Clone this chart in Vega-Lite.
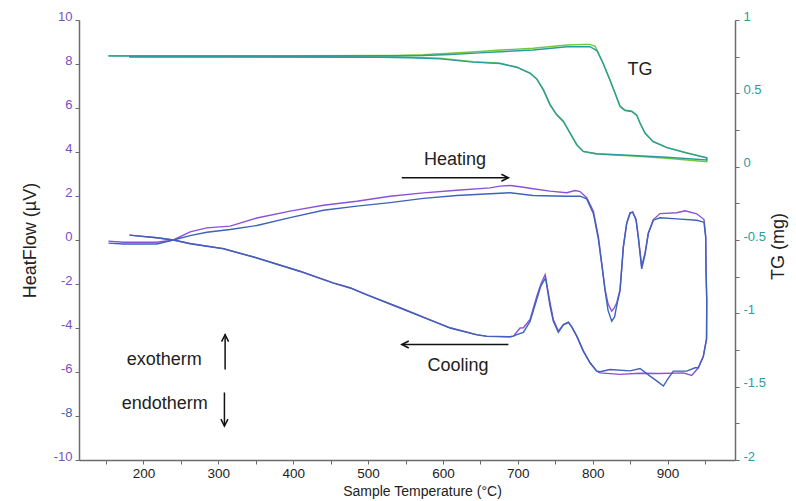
{
  "$schema": "https://vega.github.io/schema/vega-lite/v6.json",
  "width": 656,
  "height": 440,
  "autosize": {"type": "none"},
  "padding": {"left": 79, "top": 20, "right": 61, "bottom": 41},
  "background": "white",
  "config": {
    "view": {"stroke": null},
    "font": "Liberation Sans",
    "axis": {
      "grid": false,
      "domainColor": "#6b6b6b",
      "domainWidth": 1.5,
      "tickColor": "#6b6b6b",
      "tickWidth": 1,
      "tickSize": 4,
      "labelFont": "Liberation Sans",
      "titleFont": "Liberation Sans",
      "titleFontWeight": "normal",
      "titleColor": "#222222",
      "labelOverlap": false,
      "labelFlush": false
    }
  },
  "datasets": {
    "hf": [
      {"series": "HF run 1", "i": 1, "T": 153.3, "HF": -0.05},
      {"series": "HF run 1", "i": 2, "T": 173.3, "HF": -0.1},
      {"series": "HF run 1", "i": 3, "T": 217.9, "HF": -0.1},
      {"series": "HF run 1", "i": 4, "T": 240.1, "HF": 0.0},
      {"series": "HF run 1", "i": 5, "T": 262.4, "HF": 0.37},
      {"series": "HF run 1", "i": 6, "T": 284.7, "HF": 0.55},
      {"series": "HF run 1", "i": 7, "T": 315.8, "HF": 0.63},
      {"series": "HF run 1", "i": 8, "T": 351.5, "HF": 1.0},
      {"series": "HF run 1", "i": 9, "T": 395.9, "HF": 1.31},
      {"series": "HF run 1", "i": 10, "T": 440.4, "HF": 1.58},
      {"series": "HF run 1", "i": 11, "T": 484.9, "HF": 1.76},
      {"series": "HF run 1", "i": 12, "T": 529.4, "HF": 1.99},
      {"series": "HF run 1", "i": 13, "T": 573.9, "HF": 2.14},
      {"series": "HF run 1", "i": 14, "T": 618.5, "HF": 2.26},
      {"series": "HF run 1", "i": 15, "T": 663.0, "HF": 2.37},
      {"series": "HF run 1", "i": 16, "T": 676.3, "HF": 2.45},
      {"series": "HF run 1", "i": 17, "T": 689.7, "HF": 2.48},
      {"series": "HF run 1", "i": 18, "T": 703.0, "HF": 2.42},
      {"series": "HF run 1", "i": 19, "T": 720.3, "HF": 2.33},
      {"series": "HF run 1", "i": 20, "T": 743.0, "HF": 2.22},
      {"series": "HF run 1", "i": 21, "T": 765.3, "HF": 2.15},
      {"series": "HF run 1", "i": 22, "T": 776.4, "HF": 2.25},
      {"series": "HF run 1", "i": 23, "T": 783.1, "HF": 2.2},
      {"series": "HF run 1", "i": 24, "T": 792.0, "HF": 1.92},
      {"series": "HF run 1", "i": 25, "T": 800.9, "HF": 1.31},
      {"series": "HF run 1", "i": 26, "T": 807.5, "HF": 0.17},
      {"series": "HF run 1", "i": 27, "T": 812.0, "HF": -1.04},
      {"series": "HF run 1", "i": 28, "T": 816.5, "HF": -2.25},
      {"series": "HF run 1", "i": 29, "T": 820.5, "HF": -2.9},
      {"series": "HF run 1", "i": 30, "T": 825.4, "HF": -3.24},
      {"series": "HF run 1", "i": 31, "T": 828.5, "HF": -3.1},
      {"series": "HF run 1", "i": 32, "T": 832.1, "HF": -2.85},
      {"series": "HF run 1", "i": 33, "T": 836.5, "HF": -2.25},
      {"series": "HF run 1", "i": 34, "T": 840.9, "HF": -0.28},
      {"series": "HF run 1", "i": 35, "T": 845.4, "HF": 0.78},
      {"series": "HF run 1", "i": 36, "T": 849.9, "HF": 1.24},
      {"series": "HF run 1", "i": 37, "T": 853.4, "HF": 1.28},
      {"series": "HF run 1", "i": 38, "T": 857.9, "HF": 0.93},
      {"series": "HF run 1", "i": 39, "T": 860.9, "HF": 0.17},
      {"series": "HF run 1", "i": 40, "T": 865.4, "HF": -1.19},
      {"series": "HF run 1", "i": 41, "T": 869.9, "HF": -0.58},
      {"series": "HF run 1", "i": 42, "T": 874.3, "HF": 0.33},
      {"series": "HF run 1", "i": 43, "T": 881.0, "HF": 0.93},
      {"series": "HF run 1", "i": 44, "T": 889.9, "HF": 1.2},
      {"series": "HF run 1", "i": 45, "T": 912.2, "HF": 1.24},
      {"series": "HF run 1", "i": 46, "T": 923.3, "HF": 1.33},
      {"series": "HF run 1", "i": 47, "T": 938.9, "HF": 1.19},
      {"series": "HF run 1", "i": 48, "T": 948.6, "HF": 0.93},
      {"series": "HF run 1", "i": 49, "T": 950.9, "HF": 0.17},
      {"series": "HF run 1", "i": 50, "T": 951.3, "HF": -1.34},
      {"series": "HF run 1", "i": 51, "T": 952.3, "HF": -2.7},
      {"series": "HF run 1", "i": 52, "T": 952.0, "HF": -4.5},
      {"series": "HF run 1", "i": 53, "T": 947.7, "HF": -5.28},
      {"series": "HF run 1", "i": 54, "T": 941.0, "HF": -5.81},
      {"series": "HF run 1", "i": 55, "T": 932.2, "HF": -6.16},
      {"series": "HF run 1", "i": 56, "T": 921.0, "HF": -6.04},
      {"series": "HF run 1", "i": 57, "T": 889.9, "HF": -6.07},
      {"series": "HF run 1", "i": 58, "T": 863.2, "HF": -6.06},
      {"series": "HF run 1", "i": 59, "T": 836.5, "HF": -6.11},
      {"series": "HF run 1", "i": 60, "T": 809.8, "HF": -6.04},
      {"series": "HF run 1", "i": 61, "T": 805.4, "HF": -5.96},
      {"series": "HF run 1", "i": 62, "T": 796.4, "HF": -5.58},
      {"series": "HF run 1", "i": 63, "T": 787.5, "HF": -5.05},
      {"series": "HF run 1", "i": 64, "T": 778.7, "HF": -4.37},
      {"series": "HF run 1", "i": 65, "T": 772.0, "HF": -3.95},
      {"series": "HF run 1", "i": 66, "T": 767.5, "HF": -3.73},
      {"series": "HF run 1", "i": 67, "T": 760.8, "HF": -3.84},
      {"series": "HF run 1", "i": 68, "T": 754.1, "HF": -4.14},
      {"series": "HF run 1", "i": 69, "T": 747.4, "HF": -3.61},
      {"series": "HF run 1", "i": 70, "T": 743.0, "HF": -2.85},
      {"series": "HF run 1", "i": 71, "T": 736.4, "HF": -1.57},
      {"series": "HF run 1", "i": 72, "T": 730.6, "HF": -2.02},
      {"series": "HF run 1", "i": 73, "T": 725.3, "HF": -2.55},
      {"series": "HF run 1", "i": 74, "T": 716.3, "HF": -3.61},
      {"series": "HF run 1", "i": 75, "T": 707.4, "HF": -3.99},
      {"series": "HF run 1", "i": 76, "T": 703.0, "HF": -4.0},
      {"series": "HF run 1", "i": 77, "T": 694.1, "HF": -4.37},
      {"series": "HF run 1", "i": 78, "T": 689.7, "HF": -4.4},
      {"series": "HF run 1", "i": 79, "T": 658.5, "HF": -4.37},
      {"series": "HF run 1", "i": 80, "T": 645.2, "HF": -4.3},
      {"series": "HF run 1", "i": 81, "T": 609.5, "HF": -3.99},
      {"series": "HF run 1", "i": 82, "T": 587.2, "HF": -3.69},
      {"series": "HF run 1", "i": 83, "T": 542.8, "HF": -3.08},
      {"series": "HF run 1", "i": 84, "T": 498.3, "HF": -2.48},
      {"series": "HF run 1", "i": 85, "T": 476.0, "HF": -2.17},
      {"series": "HF run 1", "i": 86, "T": 453.7, "HF": -1.95},
      {"series": "HF run 1", "i": 87, "T": 409.3, "HF": -1.42},
      {"series": "HF run 1", "i": 88, "T": 351.5, "HF": -0.81},
      {"series": "HF run 1", "i": 89, "T": 306.9, "HF": -0.39},
      {"series": "HF run 1", "i": 90, "T": 262.4, "HF": -0.16},
      {"series": "HF run 1", "i": 91, "T": 240.1, "HF": 0.0},
      {"series": "HF run 1", "i": 92, "T": 217.9, "HF": 0.1},
      {"series": "HF run 1", "i": 93, "T": 181.4, "HF": 0.22},

      {"series": "HF run 2", "i": 1, "T": 153.3, "HF": -0.14},
      {"series": "HF run 2", "i": 2, "T": 173.3, "HF": -0.18},
      {"series": "HF run 2", "i": 3, "T": 217.9, "HF": -0.18},
      {"series": "HF run 2", "i": 4, "T": 240.1, "HF": 0.0},
      {"series": "HF run 2", "i": 5, "T": 262.4, "HF": 0.2},
      {"series": "HF run 2", "i": 6, "T": 284.7, "HF": 0.35},
      {"series": "HF run 2", "i": 7, "T": 315.8, "HF": 0.48},
      {"series": "HF run 2", "i": 8, "T": 351.5, "HF": 0.66},
      {"series": "HF run 2", "i": 9, "T": 395.9, "HF": 1.02},
      {"series": "HF run 2", "i": 10, "T": 440.4, "HF": 1.35},
      {"series": "HF run 2", "i": 11, "T": 484.9, "HF": 1.54},
      {"series": "HF run 2", "i": 12, "T": 529.4, "HF": 1.7},
      {"series": "HF run 2", "i": 13, "T": 573.9, "HF": 1.89},
      {"series": "HF run 2", "i": 14, "T": 618.5, "HF": 2.02},
      {"series": "HF run 2", "i": 15, "T": 663.0, "HF": 2.1},
      {"series": "HF run 2", "i": 16, "T": 689.7, "HF": 2.15},
      {"series": "HF run 2", "i": 17, "T": 720.3, "HF": 2.02},
      {"series": "HF run 2", "i": 18, "T": 765.3, "HF": 1.99},
      {"series": "HF run 2", "i": 19, "T": 783.1, "HF": 1.99},
      {"series": "HF run 2", "i": 20, "T": 792.0, "HF": 1.87},
      {"series": "HF run 2", "i": 21, "T": 800.9, "HF": 1.2},
      {"series": "HF run 2", "i": 22, "T": 807.5, "HF": 0.05},
      {"series": "HF run 2", "i": 23, "T": 812.0, "HF": -1.1},
      {"series": "HF run 2", "i": 24, "T": 816.5, "HF": -2.3},
      {"series": "HF run 2", "i": 25, "T": 820.5, "HF": -3.2},
      {"series": "HF run 2", "i": 26, "T": 825.4, "HF": -3.69},
      {"series": "HF run 2", "i": 27, "T": 829.2, "HF": -3.5},
      {"series": "HF run 2", "i": 28, "T": 832.5, "HF": -2.9},
      {"series": "HF run 2", "i": 29, "T": 836.5, "HF": -2.3},
      {"series": "HF run 2", "i": 30, "T": 840.9, "HF": -0.35},
      {"series": "HF run 2", "i": 31, "T": 845.4, "HF": 0.75},
      {"series": "HF run 2", "i": 32, "T": 849.9, "HF": 1.22},
      {"series": "HF run 2", "i": 33, "T": 853.4, "HF": 1.26},
      {"series": "HF run 2", "i": 34, "T": 857.9, "HF": 0.9},
      {"series": "HF run 2", "i": 35, "T": 860.9, "HF": 0.1},
      {"series": "HF run 2", "i": 36, "T": 865.4, "HF": -1.31},
      {"series": "HF run 2", "i": 37, "T": 869.9, "HF": -0.65},
      {"series": "HF run 2", "i": 38, "T": 874.3, "HF": 0.3},
      {"series": "HF run 2", "i": 39, "T": 881.0, "HF": 0.9},
      {"series": "HF run 2", "i": 40, "T": 889.9, "HF": 1.01},
      {"series": "HF run 2", "i": 41, "T": 912.2, "HF": 0.96},
      {"series": "HF run 2", "i": 42, "T": 938.9, "HF": 0.9},
      {"series": "HF run 2", "i": 43, "T": 948.6, "HF": 0.81},
      {"series": "HF run 2", "i": 44, "T": 950.9, "HF": 0.1},
      {"series": "HF run 2", "i": 45, "T": 951.3, "HF": -1.4},
      {"series": "HF run 2", "i": 46, "T": 952.3, "HF": -2.8},
      {"series": "HF run 2", "i": 47, "T": 952.0, "HF": -4.5},
      {"series": "HF run 2", "i": 48, "T": 947.7, "HF": -5.3},
      {"series": "HF run 2", "i": 49, "T": 941.0, "HF": -5.81},
      {"series": "HF run 2", "i": 50, "T": 936.6, "HF": -5.81},
      {"series": "HF run 2", "i": 51, "T": 925.5, "HF": -5.96},
      {"series": "HF run 2", "i": 52, "T": 907.7, "HF": -5.96},
      {"series": "HF run 2", "i": 53, "T": 900.6, "HF": -6.3},
      {"series": "HF run 2", "i": 54, "T": 894.3, "HF": -6.64},
      {"series": "HF run 2", "i": 55, "T": 887.3, "HF": -6.45},
      {"series": "HF run 2", "i": 56, "T": 876.6, "HF": -6.19},
      {"series": "HF run 2", "i": 57, "T": 863.2, "HF": -5.84},
      {"series": "HF run 2", "i": 58, "T": 849.9, "HF": -5.95},
      {"series": "HF run 2", "i": 59, "T": 823.1, "HF": -5.89},
      {"series": "HF run 2", "i": 60, "T": 809.8, "HF": -5.99},
      {"series": "HF run 2", "i": 61, "T": 805.4, "HF": -5.96},
      {"series": "HF run 2", "i": 62, "T": 796.4, "HF": -5.58},
      {"series": "HF run 2", "i": 63, "T": 787.5, "HF": -5.05},
      {"series": "HF run 2", "i": 64, "T": 778.7, "HF": -4.37},
      {"series": "HF run 2", "i": 65, "T": 772.0, "HF": -3.95},
      {"series": "HF run 2", "i": 66, "T": 767.5, "HF": -3.75},
      {"series": "HF run 2", "i": 67, "T": 760.8, "HF": -3.86},
      {"series": "HF run 2", "i": 68, "T": 754.1, "HF": -4.2},
      {"series": "HF run 2", "i": 69, "T": 747.4, "HF": -3.7},
      {"series": "HF run 2", "i": 70, "T": 743.0, "HF": -3.0},
      {"series": "HF run 2", "i": 71, "T": 737.0, "HF": -1.72},
      {"series": "HF run 2", "i": 72, "T": 730.6, "HF": -2.1},
      {"series": "HF run 2", "i": 73, "T": 725.3, "HF": -2.7},
      {"series": "HF run 2", "i": 74, "T": 716.3, "HF": -3.7},
      {"series": "HF run 2", "i": 75, "T": 707.4, "HF": -4.2},
      {"series": "HF run 2", "i": 76, "T": 698.6, "HF": -4.3},
      {"series": "HF run 2", "i": 77, "T": 694.1, "HF": -4.37},
      {"series": "HF run 2", "i": 78, "T": 689.7, "HF": -4.4},
      {"series": "HF run 2", "i": 79, "T": 658.5, "HF": -4.38},
      {"series": "HF run 2", "i": 80, "T": 645.2, "HF": -4.31},
      {"series": "HF run 2", "i": 81, "T": 609.5, "HF": -4.0},
      {"series": "HF run 2", "i": 82, "T": 587.2, "HF": -3.7},
      {"series": "HF run 2", "i": 83, "T": 542.8, "HF": -3.09},
      {"series": "HF run 2", "i": 84, "T": 498.3, "HF": -2.49},
      {"series": "HF run 2", "i": 85, "T": 476.0, "HF": -2.18},
      {"series": "HF run 2", "i": 86, "T": 453.7, "HF": -1.96},
      {"series": "HF run 2", "i": 87, "T": 409.3, "HF": -1.43},
      {"series": "HF run 2", "i": 88, "T": 351.5, "HF": -0.82},
      {"series": "HF run 2", "i": 89, "T": 306.9, "HF": -0.4},
      {"series": "HF run 2", "i": 90, "T": 262.4, "HF": -0.17},
      {"series": "HF run 2", "i": 91, "T": 240.1, "HF": 0.0},
      {"series": "HF run 2", "i": 92, "T": 217.9, "HF": 0.1},
      {"series": "HF run 2", "i": 93, "T": 181.4, "HF": 0.22}
    ],
    "tg": [
      {"series": "TG run 1", "i": 1, "T": 153.3, "TG": 0.757},
      {"series": "TG run 1", "i": 2, "T": 409.0, "TG": 0.757},
      {"series": "TG run 1", "i": 3, "T": 536.0, "TG": 0.759},
      {"series": "TG run 1", "i": 4, "T": 573.5, "TG": 0.763},
      {"series": "TG run 1", "i": 5, "T": 609.5, "TG": 0.773},
      {"series": "TG run 1", "i": 6, "T": 649.6, "TG": 0.785},
      {"series": "TG run 1", "i": 7, "T": 676.3, "TG": 0.795},
      {"series": "TG run 1", "i": 8, "T": 720.3, "TG": 0.807},
      {"series": "TG run 1", "i": 9, "T": 765.7, "TG": 0.83},
      {"series": "TG run 1", "i": 10, "T": 789.8, "TG": 0.834},
      {"series": "TG run 1", "i": 11, "T": 796.5, "TG": 0.834},
      {"series": "TG run 1", "i": 12, "T": 803.2, "TG": 0.82},
      {"series": "TG run 1", "i": 13, "T": 813.8, "TG": 0.707},
      {"series": "TG run 1", "i": 14, "T": 823.1, "TG": 0.591},
      {"series": "TG run 1", "i": 15, "T": 829.8, "TG": 0.502},
      {"series": "TG run 1", "i": 16, "T": 836.5, "TG": 0.414},
      {"series": "TG run 1", "i": 17, "T": 843.2, "TG": 0.386},
      {"series": "TG run 1", "i": 18, "T": 852.1, "TG": 0.379},
      {"series": "TG run 1", "i": 19, "T": 858.8, "TG": 0.352},
      {"series": "TG run 1", "i": 20, "T": 863.2, "TG": 0.298},
      {"series": "TG run 1", "i": 21, "T": 869.9, "TG": 0.23},
      {"series": "TG run 1", "i": 22, "T": 880.6, "TG": 0.172},
      {"series": "TG run 1", "i": 23, "T": 898.9, "TG": 0.132},
      {"series": "TG run 1", "i": 24, "T": 925.5, "TG": 0.096},
      {"series": "TG run 1", "i": 25, "T": 952.3, "TG": 0.061},
      {"series": "TG run 1", "i": 26, "T": 952.3, "TG": 0.034},
      {"series": "TG run 1", "i": 27, "T": 898.9, "TG": 0.057},
      {"series": "TG run 1", "i": 28, "T": 854.3, "TG": 0.072},
      {"series": "TG run 1", "i": 29, "T": 805.4, "TG": 0.086},
      {"series": "TG run 1", "i": 30, "T": 787.5, "TG": 0.102},
      {"series": "TG run 1", "i": 31, "T": 778.7, "TG": 0.148},
      {"series": "TG run 1", "i": 32, "T": 769.7, "TG": 0.228},
      {"series": "TG run 1", "i": 33, "T": 760.8, "TG": 0.307},
      {"series": "TG run 1", "i": 34, "T": 751.9, "TG": 0.352},
      {"series": "TG run 1", "i": 35, "T": 743.0, "TG": 0.42},
      {"series": "TG run 1", "i": 36, "T": 734.1, "TG": 0.522},
      {"series": "TG run 1", "i": 37, "T": 725.3, "TG": 0.596},
      {"series": "TG run 1", "i": 38, "T": 716.3, "TG": 0.637},
      {"series": "TG run 1", "i": 39, "T": 698.6, "TG": 0.678},
      {"series": "TG run 1", "i": 40, "T": 676.3, "TG": 0.705},
      {"series": "TG run 1", "i": 41, "T": 640.2, "TG": 0.716},
      {"series": "TG run 1", "i": 42, "T": 596.2, "TG": 0.739},
      {"series": "TG run 1", "i": 43, "T": 556.1, "TG": 0.746},
      {"series": "TG run 1", "i": 44, "T": 516.0, "TG": 0.748},
      {"series": "TG run 1", "i": 45, "T": 181.0, "TG": 0.75},

      {"series": "TG run 2", "i": 1, "T": 153.3, "TG": 0.755},
      {"series": "TG run 2", "i": 2, "T": 409.0, "TG": 0.755},
      {"series": "TG run 2", "i": 3, "T": 536.0, "TG": 0.756},
      {"series": "TG run 2", "i": 4, "T": 573.5, "TG": 0.758},
      {"series": "TG run 2", "i": 5, "T": 609.5, "TG": 0.765},
      {"series": "TG run 2", "i": 6, "T": 649.6, "TG": 0.776},
      {"series": "TG run 2", "i": 7, "T": 676.3, "TG": 0.784},
      {"series": "TG run 2", "i": 8, "T": 720.3, "TG": 0.795},
      {"series": "TG run 2", "i": 9, "T": 765.7, "TG": 0.818},
      {"series": "TG run 2", "i": 10, "T": 796.5, "TG": 0.818},
      {"series": "TG run 2", "i": 11, "T": 805.8, "TG": 0.79},
      {"series": "TG run 2", "i": 12, "T": 813.8, "TG": 0.705},
      {"series": "TG run 2", "i": 13, "T": 823.1, "TG": 0.59},
      {"series": "TG run 2", "i": 14, "T": 829.8, "TG": 0.5},
      {"series": "TG run 2", "i": 15, "T": 836.5, "TG": 0.41},
      {"series": "TG run 2", "i": 16, "T": 843.2, "TG": 0.383},
      {"series": "TG run 2", "i": 17, "T": 852.1, "TG": 0.376},
      {"series": "TG run 2", "i": 18, "T": 858.8, "TG": 0.35},
      {"series": "TG run 2", "i": 19, "T": 863.2, "TG": 0.296},
      {"series": "TG run 2", "i": 20, "T": 869.9, "TG": 0.228},
      {"series": "TG run 2", "i": 21, "T": 880.6, "TG": 0.17},
      {"series": "TG run 2", "i": 22, "T": 898.9, "TG": 0.13},
      {"series": "TG run 2", "i": 23, "T": 925.5, "TG": 0.092},
      {"series": "TG run 2", "i": 24, "T": 952.3, "TG": 0.06},
      {"series": "TG run 2", "i": 25, "T": 952.3, "TG": 0.045},
      {"series": "TG run 2", "i": 26, "T": 898.9, "TG": 0.064},
      {"series": "TG run 2", "i": 27, "T": 854.3, "TG": 0.076},
      {"series": "TG run 2", "i": 28, "T": 805.4, "TG": 0.088},
      {"series": "TG run 2", "i": 29, "T": 787.5, "TG": 0.104},
      {"series": "TG run 2", "i": 30, "T": 778.7, "TG": 0.15},
      {"series": "TG run 2", "i": 31, "T": 769.7, "TG": 0.23},
      {"series": "TG run 2", "i": 32, "T": 760.8, "TG": 0.31},
      {"series": "TG run 2", "i": 33, "T": 751.9, "TG": 0.355},
      {"series": "TG run 2", "i": 34, "T": 743.0, "TG": 0.425},
      {"series": "TG run 2", "i": 35, "T": 734.1, "TG": 0.525},
      {"series": "TG run 2", "i": 36, "T": 725.3, "TG": 0.598},
      {"series": "TG run 2", "i": 37, "T": 716.3, "TG": 0.638},
      {"series": "TG run 2", "i": 38, "T": 698.6, "TG": 0.678},
      {"series": "TG run 2", "i": 39, "T": 676.3, "TG": 0.703},
      {"series": "TG run 2", "i": 40, "T": 640.2, "TG": 0.713},
      {"series": "TG run 2", "i": 41, "T": 596.2, "TG": 0.735},
      {"series": "TG run 2", "i": 42, "T": 556.1, "TG": 0.743},
      {"series": "TG run 2", "i": 43, "T": 516.0, "TG": 0.746},
      {"series": "TG run 2", "i": 44, "T": 181.0, "TG": 0.748}
    ],
    "notes": [
      {"label": "TG", "T": 863.2, "HF": 7.49},
      {"label": "Heating", "T": 616.2, "HF": 3.43},
      {"label": "Cooling", "T": 620.2, "HF": -5.96},
      {"label": "exotherm", "T": 227.7, "HF": -5.7},
      {"label": "endotherm", "T": 228.4, "HF": -7.7}
    ],
    "arrows": [
      {"dir": "right", "x1": 545.0, "x2": 687.4, "y1": 2.83, "y2": 2.83},
      {"dir": "left", "x1": 687.4, "x2": 545.0, "y1": -4.75, "y2": -4.75},
      {"dir": "up", "x1": 309.1, "x2": 309.1, "y1": -5.89, "y2": -4.3},
      {"dir": "down", "x1": 308.2, "x2": 308.2, "y1": -6.93, "y2": -8.46}
    ]
  },
  "layer": [
    {
      "layer": [
        {
          "data": {"name": "hf"},
          "mark": {"type": "line", "strokeWidth": 1.4},
          "encoding": {
            "x": {
              "field": "T", "type": "quantitative",
              "scale": {"domain": [114, 990], "nice": false, "zero": false},
              "axis": {
                "title": "Sample Temperature (°C)",
                "values": [150, 200, 250, 300, 350, 400, 450, 500, 550, 600, 650, 700, 750, 800, 850, 900, 950],
                "labelExpr": "datum.value % 100 == 0 ? '' + datum.value : ''",
                "labelFontSize": 13.5,
                "labelColor": "#222222",
                "labelPadding": 2,
                "titleFontSize": 14,
                "titleX": 343,
                "titleY": 35,
                "titleAlign": "center",
                "titleBaseline": "alphabetic"
              }
            },
            "y": {
              "field": "HF", "type": "quantitative",
              "scale": {"domain": [-10, 10], "nice": false, "zero": false},
              "axis": {
                "orient": "left",
                "title": "HeatFlow (µV)",
                "values": [-10, -9, -8, -7, -6, -5, -4, -3, -2, -1, 0, 1, 2, 3, 4, 5, 6, 7, 8, 9, 10],
                "labelExpr": "datum.value % 2 == 0 ? '' + datum.value : ''",
                "labelFontSize": 13,
                "labelColor": {"condition": {"test": "datum.value == -8", "value": "#3d5fb0"}, "value": "#7b4cc9"},
                "labelBaseline": "alphabetic",
                "labelPadding": 3,
                "titleFontSize": 18,
                "titleAngle": 270,
                "titleX": -40,
                "titleY": 220,
                "titleAlign": "center",
                "titleBaseline": "bottom"
              }
            },
            "color": {
              "field": "series", "type": "nominal",
              "scale": {"domain": ["HF run 1", "HF run 2", "TG run 1", "TG run 2"], "range": ["#8a52d9", "#3e62b9", "#72c93f", "#2a9c9c"]},
              "legend": null
            },
            "order": {"field": "i", "type": "quantitative"}
          }
        },
        {
          "data": {"name": "notes"},
          "mark": {"type": "text", "fontSize": 18, "align": "center", "baseline": "alphabetic", "color": "#222222", "font": "Liberation Sans"},
          "encoding": {
            "x": {"field": "T", "type": "quantitative", "scale": {"domain": [114, 990], "nice": false, "zero": false}},
            "y": {"field": "HF", "type": "quantitative", "scale": {"domain": [-10, 10], "nice": false, "zero": false}},
            "text": {"field": "label"}
          }
        },
        {
          "data": {"name": "arrows"},
          "mark": {"type": "rule", "color": "#111111", "strokeWidth": 1.5},
          "encoding": {
            "x": {"field": "x1", "type": "quantitative", "scale": {"domain": [114, 990], "nice": false, "zero": false}},
            "x2": {"field": "x2"},
            "y": {"field": "y1", "type": "quantitative", "scale": {"domain": [-10, 10], "nice": false, "zero": false}},
            "y2": {"field": "y2"}
          }
        },
        {
          "data": {"name": "arrows"},
          "mark": {"type": "point", "filled": false, "size": 196, "color": "#111111", "strokeWidth": 1.5, "opacity": 1},
          "encoding": {
            "x": {"field": "x2", "type": "quantitative", "scale": {"domain": [114, 990], "nice": false, "zero": false}},
            "y": {"field": "y2", "type": "quantitative", "scale": {"domain": [-10, 10], "nice": false, "zero": false}},
            "shape": {
              "field": "dir", "type": "nominal",
              "scale": {"domain": ["right", "down", "left", "up"], "range": ["M-1,-0.5L0,0L-1,0.5", "M-0.5,-1L0,0L0.5,-1", "M1,-0.5L0,0L1,0.5", "M-0.5,1L0,0L0.5,1"]},
              "legend": null
            }
          }
        }
      ]
    },
    {
      "layer": [
        {
          "data": {"name": "tg"},
          "mark": {"type": "line", "strokeWidth": 1.4},
          "encoding": {
            "x": {"field": "T", "type": "quantitative", "scale": {"domain": [114, 990], "nice": false, "zero": false}},
            "y": {
              "field": "TG", "type": "quantitative",
              "scale": {"domain": [-2, 1], "nice": false, "zero": false},
              "axis": {
                "orient": "right",
                "title": "TG (mg)",
                "values": [-2, -1.75, -1.5, -1.25, -1, -0.75, -0.5, -0.25, 0, 0.25, 0.5, 0.75, 1],
                "labelExpr": "datum.value % 0.5 == 0 ? '' + datum.value : ''",
                "labelFontSize": 13,
                "labelColor": "#2a9d9d",
                "labelBaseline": "alphabetic",
                "labelPadding": 4,
                "titleFontSize": 18,
                "titleAngle": 270,
                "titleX": 52,
                "titleY": 226,
                "titleAlign": "center",
                "titleBaseline": "bottom"
              }
            },
            "color": {
              "field": "series", "type": "nominal",
              "scale": {"domain": ["HF run 1", "HF run 2", "TG run 1", "TG run 2"], "range": ["#8a52d9", "#3e62b9", "#72c93f", "#2a9c9c"]},
              "legend": null
            },
            "order": {"field": "i", "type": "quantitative"}
          }
        }
      ]
    }
  ],
  "resolve": {"scale": {"y": "independent"}}
}
